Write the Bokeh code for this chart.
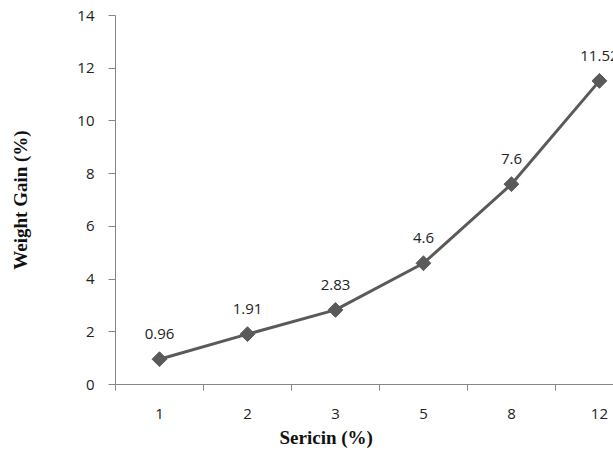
import math
from bokeh.plotting import figure
from bokeh.models import Range1d, FixedTicker, Title, ColumnDataSource, LabelSet
from bokeh.core.properties import value
from bokeh.embed import file_html
from bokeh.resources import INLINE

# Sericin concentration categories and measured weight gain
sericin = ["1", "2", "3", "5", "8", "12"]
weight_gain = [0.96, 1.91, 2.83, 4.6, 7.6, 11.52]
gain_labels = ["0.96", "1.91", "2.83", "4.6", "7.6", "11.52"]
y_ticks = [0, 2, 4, 6, 8, 10, 12, 14]

pos = list(range(len(sericin)))
src = ColumnDataSource(dict(x=pos, y=weight_gain, lab=gain_labels))

p = figure(width=613, height=452, output_backend="svg", toolbar_location=None,
           x_range=Range1d(-0.5, 5.16), y_range=Range1d(0, 14),
           min_border_left=115, min_border_right=0, min_border_top=15,
           min_border_bottom=68)
p.outline_line_color = None
p.grid.visible = False
p.background_fill_color = "white"
p.border_fill_color = "white"

line_col = "#5a5a5a"
text_col = "#222222"
p.line("x", "y", source=src, line_color=line_col, line_width=3)
p.scatter("x", "y", source=src, marker="square", size=10.5, angle=math.pi / 4,
          fill_color=line_col, line_color=line_col)

labels = LabelSet(x="x", y="y", text="lab", source=src, text_align="center",
                  text_baseline="alphabetic", y_offset=20,
                  text_font=value("Open Sans"), text_font_size="15px",
                  text_color=text_col)
p.add_layout(labels)

# x axis: labels at category centres, tick marks between categories
xa = p.xaxis[0]
xa.ticker = FixedTicker(ticks=pos, minor_ticks=[i - 0.5 for i in pos] + [len(pos) - 0.5])
xa.major_label_overrides = {i: s for i, s in enumerate(sericin)}
xa.major_tick_out = 0
xa.major_tick_in = 0
xa.minor_tick_out = 6
xa.minor_tick_in = 0
xa.minor_tick_line_color = "#868686"
xa.axis_line_color = "#868686"
xa.major_label_standoff = 18
xa.major_label_text_font = "Open Sans"
xa.major_label_text_font_size = "15px"
xa.major_label_text_color = text_col

ya = p.yaxis[0]
ya.ticker = FixedTicker(ticks=y_ticks)
ya.minor_tick_line_color = None
ya.major_tick_out = 7
ya.major_tick_in = 0
ya.major_tick_line_color = "#868686"
ya.axis_line_color = "#868686"
ya.major_label_standoff = 14
ya.major_label_text_font = "Open Sans"
ya.major_label_text_font_size = "15px"
ya.major_label_text_color = text_col
ya.axis_label = "Weight Gain (%)"
ya.axis_label_text_font = "Liberation Serif"
ya.axis_label_text_font_style = "bold"
ya.axis_label_text_font_size = "19px"
ya.axis_label_text_color = "#111111"
ya.axis_label_standoff = 43

# x-axis title sits in its own panel below the axis
p.add_layout(Title(text="Sericin (%)", align="left", offset=164, standoff=6,
                   text_font="Liberation Serif", text_font_style="bold",
                   text_font_size="19px", text_color="#111111"), "below")

open("out.html", "w").write(file_html(p, INLINE))
